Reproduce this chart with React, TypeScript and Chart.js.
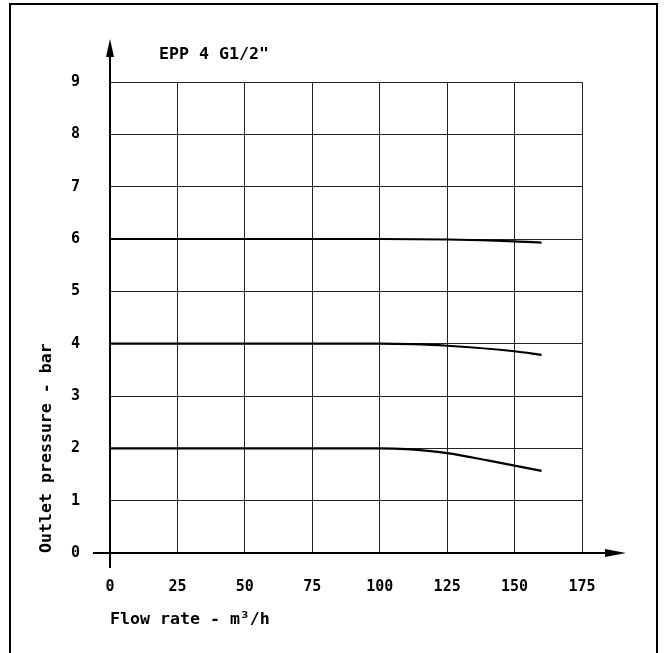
import React, { useEffect, useRef } from "react";
import { Chart, registerables } from "chart.js";

Chart.register(...registerables);

// ---- data ----
const flowTicks = [0, 25, 50, 75, 100, 125, 150, 175];
const pressureTicks = [0, 1, 2, 3, 4, 5, 6, 7, 8, 9];

const flow6 = [0, 100, 125, 150, 160];
const pressure6 = [6, 6, 5.99, 5.955, 5.93];

const flow4 = [0, 100, 112, 125, 150, 160];
const pressure4 = [4, 4, 3.99, 3.96, 3.855, 3.786];

const flow2 = [0, 100, 110, 125, 140, 150, 160];
const pressure2 = [2, 2, 1.985, 1.91, 1.77, 1.67, 1.57];

const chartTitle = 'EPP 4 G1/2"';
const xTitle = "Flow rate - m\u00B3/h";
const yTitle = "Outlet pressure - bar";

const FONT = "'DejaVu Sans Mono', 'Liberation Mono', monospace";
const WEIGHT = "bold";

const toPoints = (xs: number[], ys: number[]) => xs.map((x, i) => ({ x, y: ys[i] }));

const decorPlugin = {
  id: "decor",
  afterDraw(chart: any) {
    const { ctx, chartArea } = chart;
    const { left, right, top, bottom } = chartArea;
    ctx.save();
    // outer frame
    ctx.strokeStyle = "#000";
    ctx.lineWidth = 2;
    ctx.strokeRect(10, 4, 647, 670);

    ctx.lineWidth = 2;
    ctx.beginPath();
    // y axis extensions
    ctx.moveTo(left, bottom);
    ctx.lineTo(left, bottom + 15);
    ctx.moveTo(left, top);
    ctx.lineTo(left, top - 26);
    // x axis extensions
    ctx.moveTo(left, bottom);
    ctx.lineTo(left - 17, bottom);
    ctx.moveTo(right, bottom);
    ctx.lineTo(right + 24, bottom);
    ctx.stroke();

    ctx.fillStyle = "#000";
    // y arrow head
    ctx.beginPath();
    ctx.moveTo(left, top - 43);
    ctx.lineTo(left - 4, top - 25);
    ctx.lineTo(left + 4, top - 25);
    ctx.closePath();
    ctx.fill();
    // x arrow head
    ctx.beginPath();
    ctx.moveTo(right + 44, bottom);
    ctx.lineTo(right + 23, bottom - 4);
    ctx.lineTo(right + 23, bottom + 4);
    ctx.closePath();
    ctx.fill();

    // chart title
    ctx.font = `${WEIGHT} 16.6px ${FONT}`;
    ctx.textAlign = "left";
    ctx.textBaseline = "middle";
    ctx.fillText(chartTitle, left + 49, top - 27);
    ctx.restore();
  },
};

export default function App() {
  const canvasRef = useRef<HTMLCanvasElement | null>(null);

  useEffect(() => {
    document.body.style.margin = "0";
    const canvas = canvasRef.current;
    if (!canvas) return;
    const lineStyle = {
      borderColor: "#000",
      borderWidth: 2.2,
      pointRadius: 0,
      fill: false,
      cubicInterpolationMode: "monotone" as const,
    };
    const chart = new Chart(canvas, {
      type: "line",
      data: {
        datasets: [
          { label: "6 bar", data: toPoints(flow6, pressure6), ...lineStyle },
          { label: "4 bar", data: toPoints(flow4, pressure4), ...lineStyle },
          { label: "2 bar", data: toPoints(flow2, pressure2), ...lineStyle },
        ],
      },
      options: {
        animation: false,
        responsive: false,
        events: [],
        layout: { padding: { left: 30, top: 82, right: 82, bottom: 10 } },
        plugins: {
          legend: { display: false },
          tooltip: { enabled: false },
          title: { display: false },
        },
        scales: {
          x: {
            type: "linear",
            min: flowTicks[0],
            max: flowTicks[flowTicks.length - 1],
            afterFit: (s: any) => {
              s.height = 90;
            },
            afterBuildTicks: (s: any) => {
              s.ticks = flowTicks.map((v) => ({ value: v }));
            },
            grid: { color: "#222", lineWidth: 1, drawTicks: false },
            border: { display: true, color: "#000", width: 2 },
            ticks: {
              color: "#000",
              padding: 25,
              maxRotation: 0,
              font: { family: FONT, size: 15, weight: WEIGHT },
            },
            title: {
              display: true,
              text: xTitle,
              align: "start",
              color: "#000",
              font: { family: FONT, size: 16.6, weight: WEIGHT },
              padding: { top: 0, bottom: 13 },
            },
          },
          y: {
            type: "linear",
            min: pressureTicks[0],
            max: pressureTicks[pressureTicks.length - 1],
            afterFit: (s: any) => {
              s.width = 80;
            },
            afterBuildTicks: (s: any) => {
              s.ticks = pressureTicks.map((v) => ({ value: v }));
            },
            grid: { color: "#222", lineWidth: 1, drawTicks: false },
            border: { display: true, color: "#000", width: 2 },
            ticks: {
              color: "#000",
              padding: 30,
              font: { family: FONT, size: 15, weight: WEIGHT },
            },
            title: {
              display: true,
              text: yTitle,
              align: "start",
              color: "#000",
              font: { family: FONT, size: 16.6, weight: WEIGHT },
              padding: { top: 7, bottom: 0 },
            },
          },
        },
      },
      plugins: [decorPlugin],
    });
    return () => chart.destroy();
  }, []);

  return (
    <div style={{ width: 664, height: 653 }}>
      <canvas ref={canvasRef} width={664} height={653} style={{ display: "block" }} />
    </div>
  );
}
